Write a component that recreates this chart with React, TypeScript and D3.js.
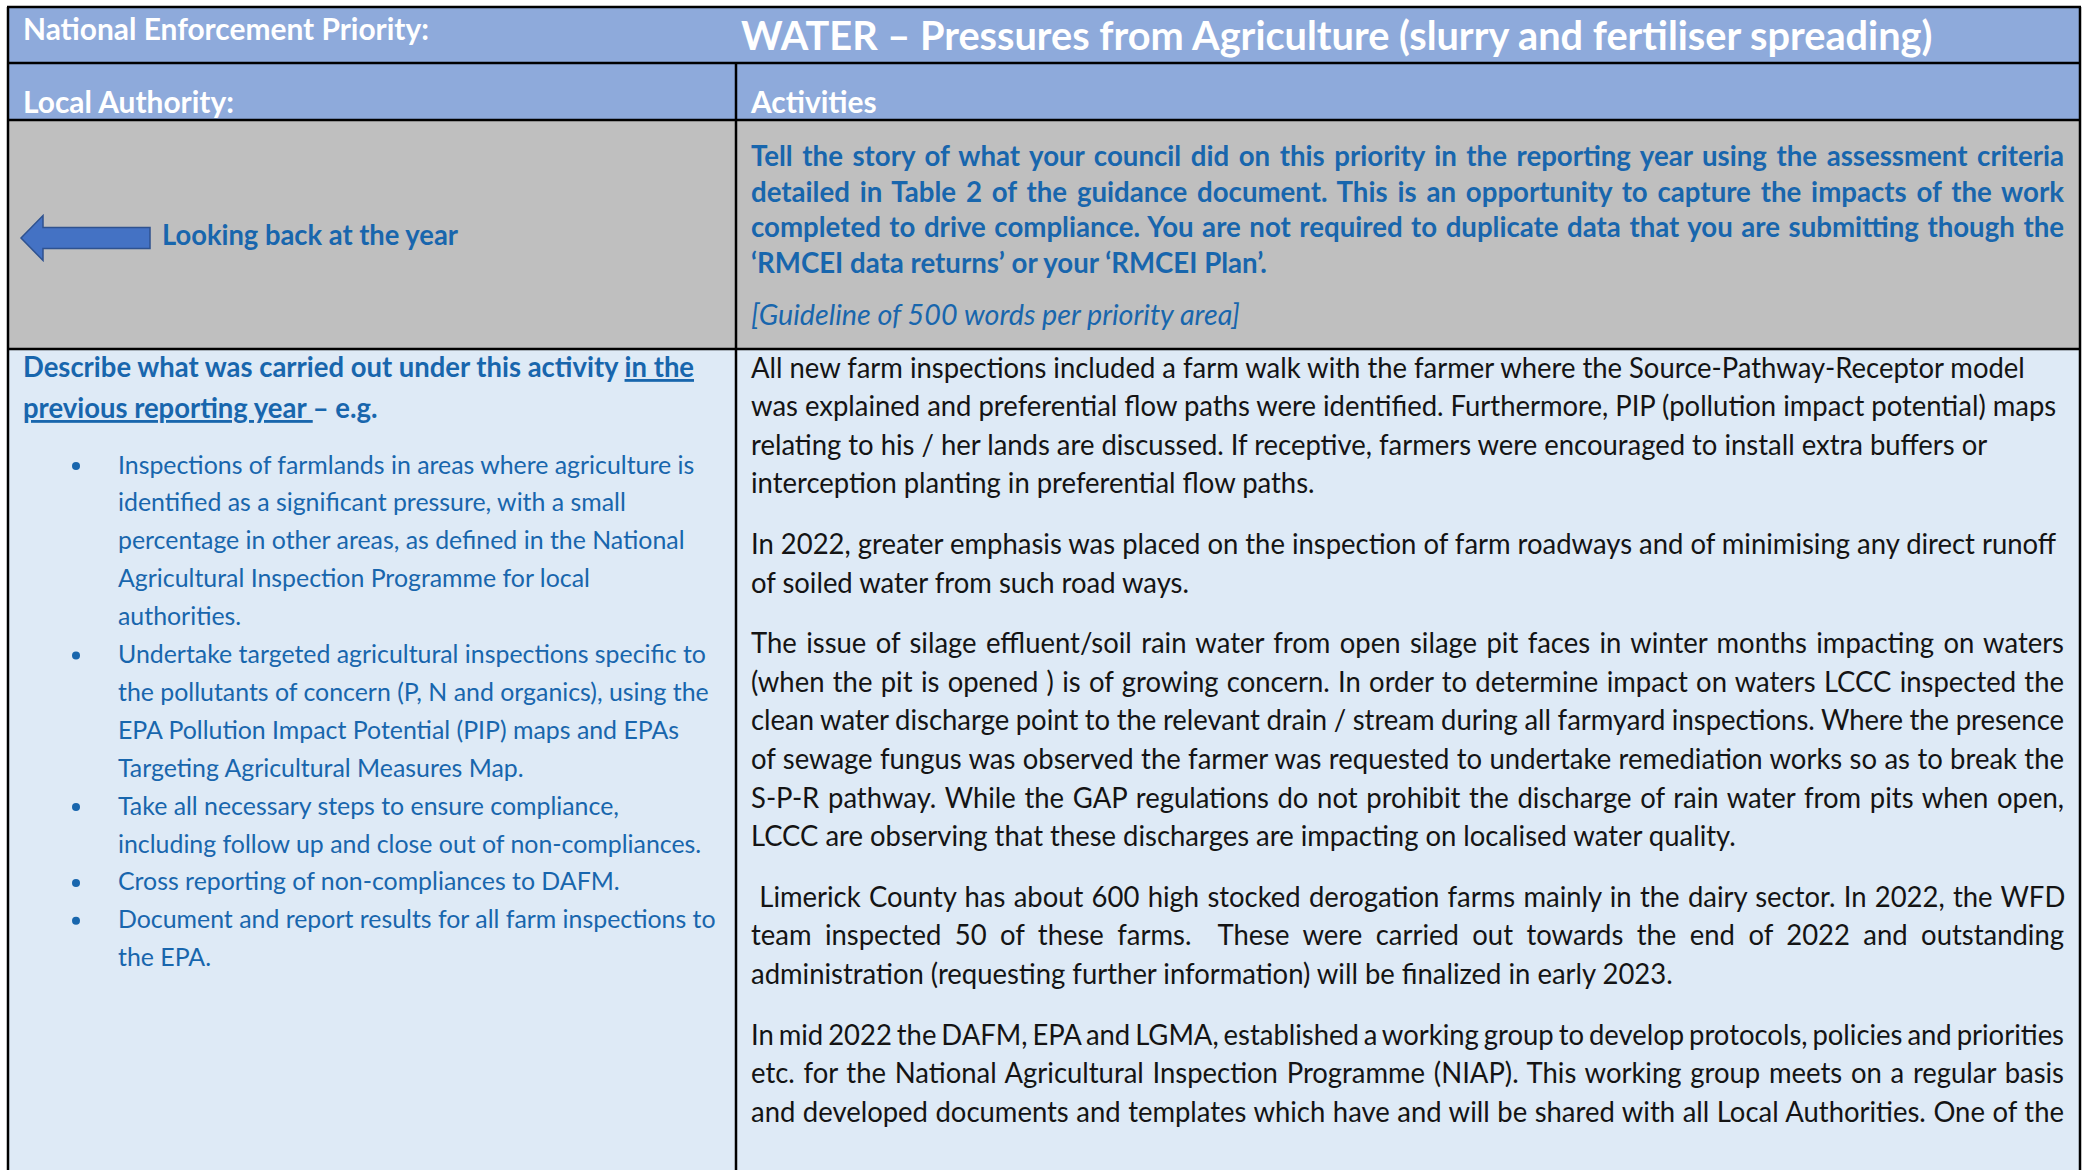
import React, { useEffect, useRef } from "react";
import * as d3 from "d3";

const W = 2087;
const H = 1170;

const headerLabel = "National Enforcement Priority:";
const headerTitle = "WATER – Pressures from Agriculture (slurry and fertiliser spreading)";
const subLabels = ["Local Authority:", "Activities"];
const lookBackLabel = "Looking back at the year";
const storyLines = [
  "Tell the story of what your council did on this priority in the reporting year using the assessment criteria",
  "detailed in Table 2 of the guidance document. This is an opportunity to capture the impacts of the work",
  "completed to drive compliance. You are not required to duplicate data that you are submitting though the",
  "‘RMCEI data returns’ or your ‘RMCEI Plan’.",
];
const guidelineNote = "[Guideline of 500 words per priority area]";
const describeParts: [string, boolean][][] = [
  [["Describe what was carried out under this activity ", false], ["in the", true]],
  [["previous reporting year ", true], ["– e.g.", false]],
];
const bulletItems: string[][] = [
  [
    "Inspections of farmlands in areas where agriculture is",
    "identified as a significant pressure, with a small",
    "percentage in other areas, as defined in the National",
    "Agricultural Inspection Programme for local",
    "authorities.",
  ],
  [
    "Undertake targeted agricultural inspections specific to",
    "the pollutants of concern (P, N and organics), using the",
    "EPA Pollution Impact Potential (PIP) maps and EPAs",
    "Targeting Agricultural Measures Map.",
  ],
  ["Take all necessary steps to ensure compliance,", "including follow up and close out of non-compliances."],
  ["Cross reporting of non-compliances to DAFM."],
  ["Document and report results for all farm inspections to", "the EPA."],
];
const paragraphs: { justify: boolean; continues?: boolean; lines: string[] }[] = [
  {
    justify: false,
    lines: [
      "All new farm inspections included a farm walk with the farmer where the Source-Pathway-Receptor model",
      "was explained and preferential flow paths were identified. Furthermore, PIP (pollution impact potential) maps",
      "relating to his / her lands are discussed. If receptive, farmers were encouraged to install extra buffers or",
      "interception planting in preferential flow paths.",
    ],
  },
  {
    justify: false,
    lines: [
      "In 2022, greater emphasis was placed on the inspection of farm roadways and of minimising any direct runoff",
      "of soiled water from such road ways.",
    ],
  },
  {
    justify: true,
    lines: [
      "The issue of silage effluent/soil rain water from open silage pit faces in winter months impacting on waters",
      "(when the pit is opened ) is of growing concern. In order to determine impact on waters LCCC inspected the",
      "clean water discharge point to the relevant drain / stream during all farmyard inspections. Where the presence",
      "of sewage fungus was observed the farmer was requested to undertake remediation works so as to break the",
      "S-P-R pathway. While the GAP regulations do not prohibit the discharge of rain water from pits when open,",
      "LCCC are observing that these discharges are impacting on localised water quality.",
    ],
  },
  {
    justify: true,
    lines: [
      " Limerick County has about 600 high stocked derogation farms mainly in the dairy sector. In 2022, the WFD",
      "team inspected 50 of these farms.  These were carried out towards the end of 2022 and outstanding",
      "administration (requesting further information) will be finalized in early 2023.",
    ],
  },
  {
    justify: true,
    continues: true,
    lines: [
      "In mid 2022 the DAFM, EPA and LGMA, established a working group to develop protocols, policies and priorities",
      "etc. for the National Agricultural Inspection Programme (NIAP). This working group meets on a regular basis",
      "and developed documents and templates which have and will be shared with all Local Authorities. One of the",
    ],
  },
];

// layout
const X0 = 8, X1 = 2080, XD = 736;
const Y0 = 7, YH1 = 63, YH2 = 120, YG = 349;
const FONT = "Lato, 'Noto Sans', sans-serif";
const K = 0.98; // horizontal condense, Calibri-like
const BLUE = "#1866AD";
const INK = "#141414";
const HEAD_FILL = "#8EAADB";
const GREY_FILL = "#BFBFBF";
const BODY_FILL = "#DEEAF6";

const rightText = { x: 751, right: 2064 };
const leftText = { x: 23, bulletX: 76, textX: 118 };

type LineProps = {
  x: number;
  y: number;
  size: number;
  weight?: string | number;
  italic?: boolean;
  fill: string;
  justifyTo?: number;
  children: React.ReactNode;
};

function Line({ x, y, size, weight = 400, italic, fill, justifyTo, children }: LineProps) {
  return (
    <text
      className={justifyTo ? "justify" : undefined}
      data-target={justifyTo ? (justifyTo - x) / K : undefined}
      transform={`translate(${x},${y}) scale(${K},1)`}
      fontFamily={FONT}
      fontSize={size}
      fontWeight={weight}
      fontStyle={italic ? "italic" : "normal"}
      fill={fill}
      style={{ whiteSpace: "pre" }}
    >
      {children}
    </text>
  );
}

export default function App() {
  const ref = useRef<SVGSVGElement>(null);

  useEffect(() => {
    const svg = d3.select(ref.current);
    const run = () => {
      svg.selectAll<SVGTextElement, unknown>("text.justify").each(function () {
        const el = this;
        el.setAttribute("word-spacing", "0");
        const natural = el.getComputedTextLength();
        const target = Number(el.getAttribute("data-target"));
        const spaces = (el.textContent || "").trim().split(" ").length - 1;
        if (spaces > 0) el.setAttribute("word-spacing", String((target - natural) / spaces));
      });
    };
    run();
    (document as any).fonts?.ready?.then(run);
  }, []);

  const bodyStep = 38.6;
  const paraGap = 22;
  const bodyLines: { text: string; y: number; justify: boolean }[] = [];
  let y = 377.5;
  paragraphs.forEach((p) => {
    p.lines.forEach((t, i) => {
      bodyLines.push({ text: t, y, justify: p.justify && (p.continues || i < p.lines.length - 1) });
      y += bodyStep;
    });
    y += paraGap;
  });

  const storyY = d3.scaleLinear().domain([0, 1]).range([166, 201.5]);
  const describeY = d3.scaleLinear().domain([0, 1]).range([377, 418]);
  const bulletY = d3.scaleLinear().domain([0, 1]).range([473.5, 511.4]);

  const bulletRows: { text: string; idx: number; first: boolean }[] = [];
  let bi = 0;
  bulletItems.forEach((item) =>
    item.forEach((t, i) => {
      bulletRows.push({ text: t, idx: bi, first: i === 0 });
      bi++;
    })
  );

  const arrow = d3.path();
  arrow.moveTo(21, 238);
  arrow.lineTo(43, 215.5);
  arrow.lineTo(43, 227.5);
  arrow.lineTo(150, 227.5);
  arrow.lineTo(150, 248.5);
  arrow.lineTo(43, 248.5);
  arrow.lineTo(43, 260.5);
  arrow.closePath();

  return (
    <svg
      ref={ref}
      width={W}
      height={H}
      viewBox={`0 0 ${W} ${H}`}
      style={{ position: "fixed", left: 0, top: 0, background: "#fff" }}
    >
      <rect x={X0} y={Y0} width={X1 - X0} height={YH2 - Y0} fill={HEAD_FILL} />
      <rect x={X0} y={YH2} width={X1 - X0} height={YG - YH2} fill={GREY_FILL} />
      <rect x={X0} y={YG} width={X1 - X0} height={H - YG} fill={BODY_FILL} />

      <Line x={23} y={39.5} size={30.5} weight={700} fill="#fff">{headerLabel}</Line>
      <Line x={741} y={49.5} size={40.5} weight={700} fill="#fff">{headerTitle}</Line>
      <Line x={23} y={112.5} size={30.5} weight={700} fill="#fff">{subLabels[0]}</Line>
      <Line x={751} y={112.5} size={30.5} weight={700} fill="#fff">{subLabels[1]}</Line>

      <path d={arrow.toString()} fill="#4472C4" stroke="#2F528F" strokeWidth={1.5} />
      <Line x={162} y={244.5} size={27.9} weight={700} fill={BLUE}>{lookBackLabel}</Line>
      {storyLines.map((t, i) => (
        <Line
          key={i}
          x={rightText.x}
          y={storyY(i)}
          size={28.2}
          weight={700}
          fill={BLUE}
          justifyTo={i < storyLines.length - 1 ? rightText.right : undefined}
        >
          {t}
        </Line>
      ))}
      <Line x={rightText.x} y={324.5} size={29.3} italic fill={BLUE}>{guidelineNote}</Line>

      {describeParts.map((parts, i) => (
        <Line key={i} x={leftText.x} y={describeY(i)} size={28} weight={700} fill={BLUE}>
          {parts.map(([t, u], j) => (
            <tspan key={j} style={{ textDecoration: u ? "underline" : "none" }}>
              {t}
            </tspan>
          ))}
        </Line>
      ))}
      {bulletRows.map((r) => (
        <g key={r.idx}>
          {r.first && <circle cx={leftText.bulletX} cy={bulletY(r.idx) - 7.5} r={4} fill={BLUE} />}
          <Line x={leftText.textX} y={bulletY(r.idx)} size={25.4} fill={BLUE}>{r.text}</Line>
        </g>
      ))}

      {bodyLines.map((l, i) => (
        <Line key={i} x={rightText.x} y={l.y} size={28} fill={INK} justifyTo={l.justify ? rightText.right : undefined}>
          {l.text}
        </Line>
      ))}

      <g stroke="#000" strokeWidth={2.5} fill="none">
        <line x1={X0 - 1} x2={X1 + 1} y1={Y0} y2={Y0} />
        <line x1={X0} x2={X1} y1={YH1} y2={YH1} />
        <line x1={X0} x2={X1} y1={YH2} y2={YH2} />
        <line x1={X0} x2={X1} y1={YG} y2={YG} />
        <line x1={X0} x2={X0} y1={Y0} y2={H} />
        <line x1={X1} x2={X1} y1={Y0} y2={H} />
        <line x1={XD} x2={XD} y1={YH1} y2={H} />
      </g>
    </svg>
  );
}
